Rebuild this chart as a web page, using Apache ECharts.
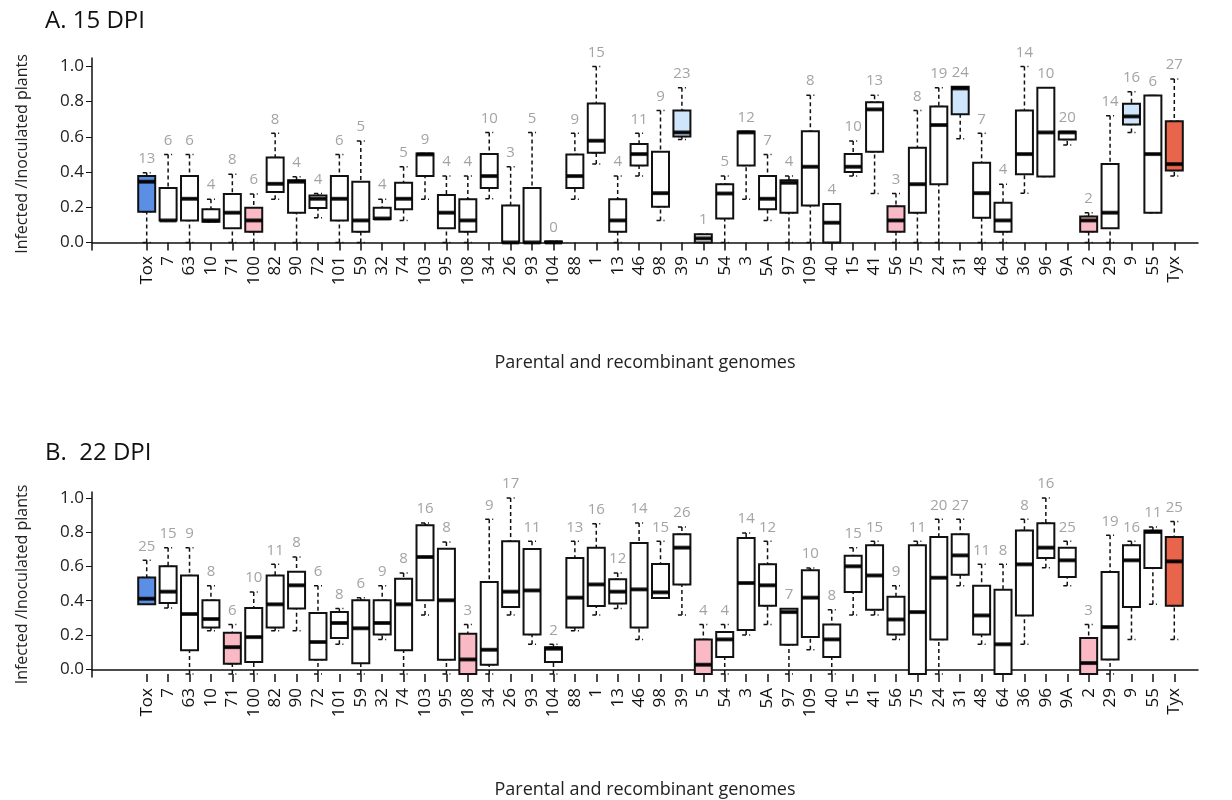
<!DOCTYPE html>
<html>
<head>
<meta charset="utf-8">
<script src="https://cdn.jsdelivr.net/npm/echarts@6/dist/echarts.min.js"></script>
<style>html,body{margin:0;background:#fff}#chart{width:1232px;height:800px}</style>
</head>
<body>
<div id="chart"></div>
<script>
// genomes on the x axis (same order in both panels)
const genomes = ['Tox','7','63','10','71','100','82','90','72','101','59','32','74','103','95','108','34','26','93','104','88','1','13','46','98','39','5','54','3','5A','97','109','40','15','41','56','75','24','31','48','64','36','96','9A','2','29','9','55','Tyx']
const yTicks = [0, 0.2, 0.4, 0.6, 0.8, 1.0]

// A. 15 DPI  [min, q1, median, q3, max]
const statsA = [
  [0,.174,.345,.377,.396],[.125,.125,.125,.31,.50],[0,.125,.248,.377,.50],[.117,.117,.125,.188,.246],
  [0,.081,.169,.275,.388],[0,.061,.125,.197,.275],[.246,.286,.333,.483,.62],[0,.169,.345,.354,.373],
  [.14,.195,.248,.267,.278],[0,.125,.248,.377,.50],[0,.061,.125,.345,.576],[.133,.133,.136,.197,.246],
  [.125,.188,.248,.339,.43],[.246,.377,.50,.506,.506],[0,.081,.169,.269,.377],[0,.061,.125,.246,.377],
  [.248,.31,.377,.502,.625],[0,0,0,.21,.43],[0,0,0,.31,.625],[0,0,0,.005,.005],
  [.246,.31,.377,.50,.62],[.445,.51,.578,.79,1.0],[0,.061,.125,.246,.377],[.377,.437,.502,.559,.62],
  [.125,.203,.28,.515,.75],[.585,.602,.625,.75,.879],[0,0,.023,.047,.047],[0,.136,.278,.331,.377],
  [.246,.437,.625,.63,.63],[.125,.188,.248,.377,.50],[0,.169,.339,.354,.377],[0,.21,.43,.632,.837],
  [0,0,.112,.218,.218],[.377,.40,.43,.502,.576],[.278,.515,.756,.797,.837],[0,.061,.125,.205,.278],
  [0,.169,.331,.538,.75],[0,.331,.667,.773,.879],[.589,.729,.875,.884,.884],[0,.14,.28,.453,.62],
  [0,.061,.125,.225,.331],[.28,.388,.502,.75,1.0],[.375,.375,.625,.879,.879],[.553,.585,.625,.629,.629],
  [0,.061,.125,.148,.169],[0,.081,.169,.445,.72],[.625,.67,.716,.788,.856],[.169,.169,.502,.835,.835],
  [.377,.409,.445,.689,.928]
]
const countsA = [13,6,6,4,8,6,8,4,4,6,5,4,5,9,4,4,10,3,5,0,9,15,4,11,9,23,1,5,12,7,4,8,4,10,13,3,8,19,24,7,4,14,10,20,2,14,16,6,27]

// B. 22 DPI
const statsB = [
  [.396,.396,.428,.549,.646],[.375,.403,.468,.612,.718],[0,.136,.341,.56,.718],[.246,.265,.3125,.419,.502],
  [0,.059,.153,.235,.282],[0,.068,.21,.375,.466],[.246,.265,.396,.56,.623],[.246,.373,.504,.581,.665],
  [0,.081,.182,.347,.502],[.169,.205,.29,.352,.373],[0,.061,.26,.419,.434],[.197,.225,.29,.419,.502],
  [0,.136,.396,.542,.574],[.335,.419,.665,.845,.858],[0,.081,.419,.712,.75],[0,0,.083,.229,.282],
  [0,.053,.138,.523,.879],[.335,.381,.468,.754,1.0],[.169,.225,.475,.71,.754],[0,.068,.144,.153,.169],
  [.246,.265,.434,.659,.754],[.335,.386,.509,.718,.854],[.373,.401,.468,.538,.574],[.197,.265,.481,.744,.858],
  [.432,.432,.464,.625,.754],[.335,.509,.718,.794,.835],[0,0,.053,.197,.282],[0,.097,.197,.239,.282],
  [.222,.25,.517,.773,.801],[.282,.388,.504,.623,.754],[0,.167,.352,.371,.371],[.138,.21,.434,.589,.602],
  [0,.097,.197,.282,.366],[.335,.466,.612,.672,.718],[.335,.366,.56,.731,.754],[.197,.225,.31,.439,.502],
  [0,0,.352,.731,.754],[0,.197,.547,.778,.879],[.502,.564,.674,.794,.879],[.169,.225,.333,.502,.623],
  [0,0,.169,.479,.623],[.169,.333,.623,.816,.879],[.604,.659,.718,.856,1.0],[.502,.551,.646,.718,.754],
  [0,0,.0625,.205,.282],[0,.083,.267,.58,.788],[.197,.381,.646,.731,.754],[.396,.602,.807,.816,.835],
  [.197,.388,.64,.778,.866]
]
const countsB = [25,15,9,8,6,10,11,8,6,8,6,9,8,16,8,3,9,17,11,2,13,16,12,14,15,26,4,4,14,12,7,10,8,15,15,9,11,20,27,11,8,8,16,25,3,19,16,11,25]

// highlighted genomes per panel
const BLUE = '#5b8fe6', LIGHT = '#cfe5fb', PINK = '#f9b9c5', RED = '#e8654b'
const colorsA = { Tox: BLUE, '100': PINK, '39': LIGHT, '56': PINK, '31': LIGHT, '2': PINK, '9': LIGHT, Tyx: RED }
const colorsB = { Tox: BLUE, '71': PINK, '108': PINK, '5': PINK, '2': PINK, Tyx: RED }

const FONT = '"Open Sans", "Noto Sans", sans-serif'

function panel(k, top, height, yMin, yMax, stats, counts, colors) {
  // grids: frame (axis lines), main (boxes); x axes: frame, main, hidden (whiskers)
  const fg = k * 2, mg = k * 2 + 1
  const fx = k * 3, mx = k * 3 + 1, wx = k * 3 + 2
  const grid = [
    { left: 92, right: 34, top, height },
    { left: 136, width: 1049, top, height },
  ]
  const xAxis = [
    { gridIndex: fg, type: 'value', min: 0, max: 1,
      axisLine: { show: true, lineStyle: { color: '#111', width: 1.5 } },
      axisTick: { show: false }, axisLabel: { show: false }, splitLine: { show: false },
      name: 'Parental and recombinant genomes', nameLocation: 'middle', nameGap: 104,
      nameTextStyle: { fontSize: 18, color: '#222', fontFamily: FONT } },
    { gridIndex: mg, type: 'category', data: genomes, boundaryGap: true,
      axisLine: { show: false }, splitLine: { show: false },
      axisTick: { show: true, alignWithLabel: true, length: 8, lineStyle: { color: '#111', width: 1.5 } },
      axisLabel: { interval: 0, rotate: 90, fontSize: 17, color: '#111', margin: 6, fontFamily: FONT } },
    { gridIndex: mg, type: 'category', data: genomes, boundaryGap: true, show: false },
  ]
  const yAxis = [
    { gridIndex: fg, type: 'value', min: yMin, max: yMax,
      axisLine: { show: true, lineStyle: { color: '#111', width: 1.5 } },
      axisTick: { show: true, length: 6, customValues: yTicks, lineStyle: { color: '#111' } },
      axisLabel: { customValues: yTicks, fontSize: 17, color: '#222', margin: 8, fontFamily: FONT,
        formatter: v => v.toFixed(1) },
      splitLine: { show: false },
      name: 'Infected /Inoculated plants', nameLocation: 'middle', nameRotate: 90, nameGap: 62,
      nameTextStyle: { fontSize: 16, color: '#222', fontFamily: FONT } },
    { gridIndex: mg, type: 'value', min: yMin, max: yMax, show: false },
  ]
  const my = k * 2 + 1
  const series = [
    { type: 'boxplot', xAxisIndex: wx, yAxisIndex: my, boxWidth: [8, 8], z: 2,
      itemStyle: { color: 'rgba(0,0,0,0)', borderColor: '#111', borderWidth: 1.5, borderType: [4, 3] },
      data: stats },
    { type: 'boxplot', xAxisIndex: mx, yAxisIndex: my, boxWidth: [17, 17], z: 3,
      data: stats.map((s, i) => ({
        value: [s[1], s[1], s[2], s[3], s[3]],
        itemStyle: { color: colors[genomes[i]] || '#fff', borderColor: '#111', borderWidth: 2 },
      })) },
    { type: 'scatter', xAxisIndex: mx, yAxisIndex: my, symbol: 'rect', symbolSize: [17, 4], z: 4,
      itemStyle: { color: '#000' }, data: stats.map((s, i) => [i, s[2]]) },
    { type: 'scatter', xAxisIndex: mx, yAxisIndex: my, symbolSize: 1, z: 5,
      itemStyle: { color: 'rgba(0,0,0,0)' },
      label: { show: true, position: 'top', distance: 6, fontSize: 15, color: '#8c8c8c', fontFamily: FONT,
        formatter: p => String(counts[p.dataIndex]) },
      data: stats.map((s, i) => [i, s[4]]) },
  ]
  return { grid, xAxis, yAxis, series }
}

const pA = panel(0, 58, 192, -0.043, 1.048, statsA, countsA, colorsA)
const pB = panel(1, 492, 190, -0.045, 1.034, statsB, countsB, colorsB)

const chart = echarts.init(document.getElementById('chart'))
chart.setOption({
  animation: false,
  title: [
    { text: 'A. 15 DPI', left: 40, top: 4, textStyle: { fontSize: 24, fontWeight: 'normal', color: '#111', fontFamily: FONT } },
    { text: 'B.  22 DPI', left: 40, top: 436, textStyle: { fontSize: 24, fontWeight: 'normal', color: '#111', fontFamily: FONT } },
  ],
  grid: [...pA.grid, ...pB.grid],
  xAxis: [...pA.xAxis, ...pB.xAxis],
  yAxis: [...pA.yAxis, ...pB.yAxis],
  series: [...pA.series, ...pB.series],
})
</script>
</body>
</html>
